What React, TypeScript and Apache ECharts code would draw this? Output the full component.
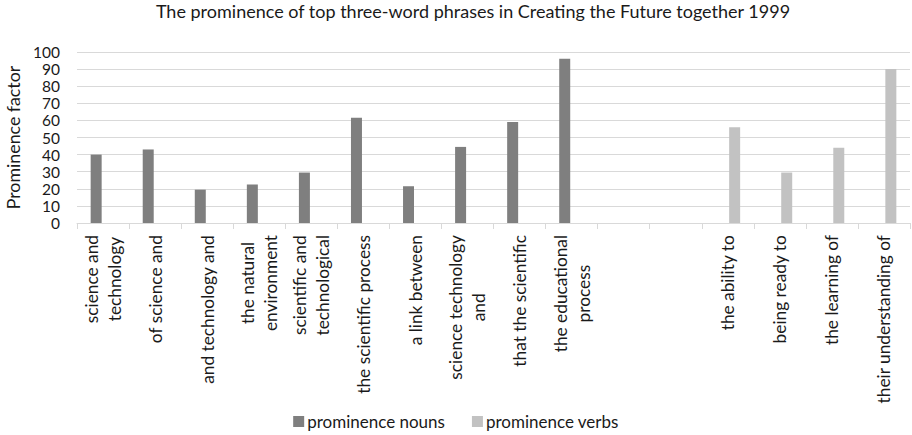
import React, { useEffect, useRef } from "react";
import * as echarts from "echarts";

const categories = [
  "science and\ntechnology",
  "of science and",
  "and technology and",
  "the natural\nenvironment",
  "scientific and\ntechnological",
  "the scientific process",
  "a link between",
  "science technology\nand",
  "that the scientific",
  "the educational\nprocess",
  "",
  "",
  "the ability to",
  "being ready to",
  "the learning of",
  "their understanding of",
];

const nounValues = [40, 43, 19.5, 22.5, 29.5, 61.5, 21.5, 44.5, 59, 96, null, null, null, null, null, null];
const verbValues = [null, null, null, null, null, null, null, null, null, null, null, null, 56, 29.5, 44, 90];

const yTicks = { min: 0, max: 100, interval: 10 };

const FONT = "Lato";
const TEXT = "#1a1a1a";

export default function App() {
  const ref = useRef<HTMLDivElement>(null);
  useEffect(() => {
    document.body.style.margin = "0";
    if (!ref.current) return;
    const chart = echarts.init(ref.current, undefined, { renderer: "svg" });
    chart.setOption({
      animation: false,
      backgroundColor: "#ffffff",
      textStyle: { fontFamily: FONT },
      title: {
        text: "The prominence of top three-word phrases in Creating the Future together 1999",
        left: 468,
        textAlign: "center",
        top: -3,
        textStyle: { fontFamily: FONT, fontSize: 18, fontWeight: "normal", color: TEXT },
      },
      legend: {
        left: "center",
        top: 408,
        itemWidth: 11,
        itemHeight: 11,
        itemGap: 27,
        icon: "rect",
        textStyle: { fontFamily: FONT, fontSize: 17, color: TEXT, padding: [0, 0, 0, -2] },
        data: ["prominence nouns", "prominence verbs"],
      },
      grid: { left: 77, right: 2, top: 52, bottom: 212, containLabel: false, outerBoundsMode: "none" },
      xAxis: {
        type: "category",
        data: categories,
        boundaryGap: true,
        axisLine: { show: true, lineStyle: { color: "#d9d9d9", width: 1 } },
        axisTick: { show: true, length: 6, alignWithLabel: false, lineStyle: { color: "#d9d9d9" } },
        axisLabel: {
          interval: 0,
          rotate: 90,
          margin: 12,
          color: TEXT,
          fontFamily: FONT,
          fontSize: 17.3,
          formatter: (v: string) =>
            v
              .split("\n")
              .map((s) => "{c|" + s + "}")
              .join("\n"),
          rich: {
            c: { align: "center", fontFamily: FONT, fontSize: 17.3, color: TEXT, lineHeight: 23 },
          },
        },
      },
      yAxis: {
        type: "value",
        min: yTicks.min,
        max: yTicks.max,
        interval: yTicks.interval,
        name: "Prominence factor",
        nameLocation: "middle",
        nameGap: 52,
        nameTextStyle: { fontFamily: FONT, fontSize: 17.8, color: TEXT },
        axisLine: { show: false },
        axisTick: { show: false },
        splitLine: { show: true, lineStyle: { color: "#d9d9d9", width: 1 } },
        axisLabel: { margin: 17, color: TEXT, fontFamily: FONT, fontSize: 15.5, lineHeight: 16 },
      },
      series: [
        {
          name: "prominence nouns",
          type: "bar",
          data: nounValues,
          barWidth: 11,
          barGap: "25%",
          itemStyle: { color: "#7f7f7f" },
        },
        {
          name: "prominence verbs",
          type: "bar",
          data: verbValues,
          barWidth: 11,
          barGap: "25%",
          itemStyle: { color: "#c2c2c2" },
        },
      ],
    });
    return () => chart.dispose();
  }, []);
  return <div ref={ref} style={{ width: 912, height: 435 }} />;
}
